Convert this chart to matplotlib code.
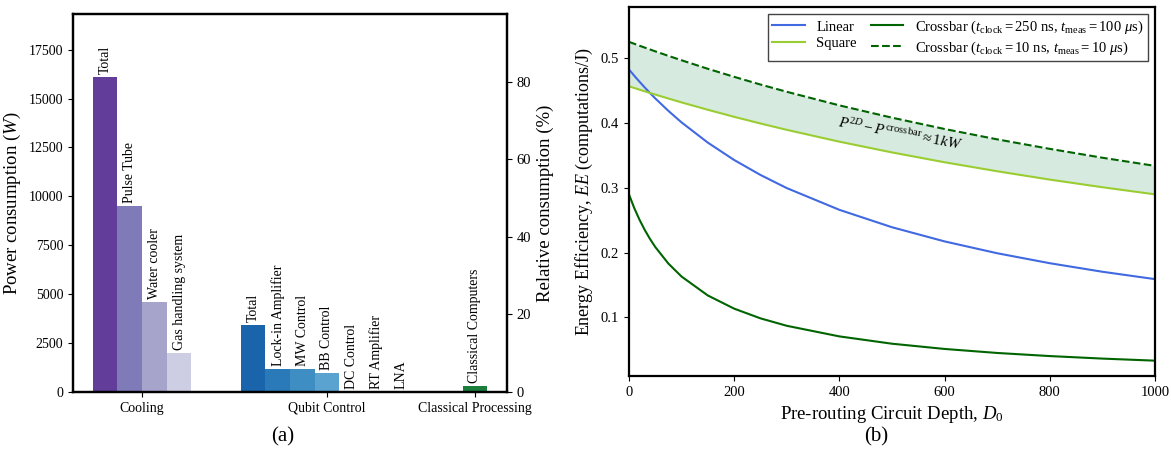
import numpy as np
import matplotlib
matplotlib.use("Agg")
import matplotlib.pyplot as plt
from matplotlib.ticker import MultipleLocator

plt.rcParams["font.family"] = ["Liberation Serif", "DejaVu Serif"]
plt.rcParams["mathtext.fontset"] = "custom"
plt.rcParams["mathtext.rm"] = "Liberation Serif"
plt.rcParams["mathtext.it"] = "Liberation Serif:italic"
plt.rcParams["axes.linewidth"] = 1.6

# (a) power consumption breakdown
group_names = ["Cooling", "Qubit Control", "Classical Processing"]
cooling_labels = ["Total", "Pulse Tube", "Water cooler", "Gas handling system"]
cooling_values = [16100, 9500, 4600, 2000]
qubit_labels = ["Total", "Lock-in Amplifier", "MW Control", "BB Control",
                "DC Control", "RT Amplifier", "LNA"]
qubit_values = [3420, 1200, 1200, 990, 20, 6, 4]
classical_labels = ["Classical Computers"]
classical_values = [300]

cooling_colors = ["#633d9a", "#7f7bb9", "#a7a4cc", "#cdcde4"]
qubit_colors = ["#1964aa", "#2a7aba", "#3e8ec4", "#5aa2cf",
                "#74b3d8", "#92c4df", "#b0d2e7"]
classical_colors = ["#1b7e3d"]

# (b) energy efficiency vs pre-routing depth
depth = [0, 10, 20, 30, 40, 50, 75, 100, 150, 200, 250, 300,
         400, 500, 600, 700, 800, 900, 1000]
ee_linear = [0.483, 0.4734, 0.4641, 0.4552, 0.4466, 0.4383, 0.4190, 0.4012,
             0.3699, 0.3431, 0.3200, 0.2997, 0.2661, 0.2392, 0.2173, 0.1990,
             0.1836, 0.1704, 0.1590]
ee_square = [0.457, 0.4544, 0.4518, 0.4492, 0.4467, 0.4442, 0.4381, 0.4321,
             0.4207, 0.4098, 0.3995, 0.3897, 0.3714, 0.3548, 0.3396, 0.3257,
             0.3128, 0.3010, 0.2900]
ee_crossbar_slow = [0.290, 0.2690, 0.2509, 0.2351, 0.2211, 0.2087, 0.1830,
                    0.1630, 0.1337, 0.1134, 0.0984, 0.0869, 0.0705, 0.0592,
                    0.0511, 0.0449, 0.0401, 0.0362, 0.0330]
ee_crossbar_fast = [0.5257, 0.5227, 0.5197, 0.5168, 0.5139, 0.5110, 0.5040,
                    0.4972, 0.4840, 0.4716, 0.4597, 0.4485, 0.4275, 0.4085,
                    0.3910, 0.3750, 0.3603, 0.3466, 0.3340]

fig = plt.figure(figsize=(11.71, 4.71), dpi=100)
ax = fig.add_axes([0.0623, 0.1677, 0.3707, 0.8026])

groups = [(cooling_labels, cooling_values, cooling_colors),
          (qubit_labels, qubit_values, qubit_colors),
          (classical_labels, classical_values, classical_colors)]
ymax = 1.2 * max(cooling_values + qubit_values + classical_values)
centers = []
pos = 0
for labels, values, colors in groups:
    x = pos + np.arange(len(values))
    ax.bar(x, values, width=1.0, color=colors)
    for xi, v, lab in zip(x, values, labels):
        ax.text(xi, v + 0.008 * ymax, lab, rotation=90, ha="center",
                va="bottom", fontsize=10)
    centers.append(x.mean())
    pos += len(values) + 2

ax.set_xticks(centers)
ax.set_xticklabels(group_names, fontsize=10.5)
ax.set_ylim(0, ymax)
ax.yaxis.set_major_locator(MultipleLocator(2500))
ax.tick_params(labelsize=10)
ax.set_ylabel("Power consumption ($W$)", fontsize=13.5)

total_power = cooling_values[0] + qubit_values[0] + classical_values[0]
ax2 = ax.twinx()
ax2.set_ylim(0, ymax / total_power * 100)
ax2.tick_params(labelsize=10.5)
ax2.set_ylabel("Relative consumption (%)", fontsize=13.5)

# (b)
bx = fig.add_axes([0.5371, 0.2017, 0.4492, 0.7841])
bx.fill_between(depth, ee_square, ee_crossbar_fast, color="#d6eadf", lw=0)
bx.plot(depth, ee_linear, color="royalblue", lw=1.5, label="Linear")
bx.plot(depth, ee_square, color="yellowgreen", lw=1.5, label="Square")
bx.plot(depth, ee_crossbar_slow, color="darkgreen", lw=1.5,
        label=r"Crossbar ($t_{\rm clock} = 250$ ns, $t_{\rm meas} = 100$ $\mu$s)")
bx.plot(depth, ee_crossbar_fast, color="darkgreen", lw=1.5, ls="--",
        label=r"Crossbar ($t_{\rm clock} = 10$ ns, $t_{\rm meas} = 10$ $\mu$s)")
bx.text(515, 0.384, r"$P^{2D} - P^{\rm crossbar} \approx 1kW$", rotation=-10.5,
        ha="center", va="center", fontsize=11)
bx.set_xlim(0, 1000)
bx.set_ylim(0.0093, 0.58)
bx.set_yticks([0.1, 0.2, 0.3, 0.4, 0.5])
bx.tick_params(labelsize=10.5)
bx.set_xlabel("Pre-routing Circuit Depth, $D_0$", fontsize=13.5)
bx.set_ylabel("Energy Efficiency, $EE$ (computations/J)", fontsize=13)
leg = bx.legend(loc="upper right", ncol=2, fontsize=10.5, fancybox=False,
                framealpha=1, edgecolor="#444444", columnspacing=1.0,
                labelspacing=0.25, borderpad=0.3, handlelength=2.2)
leg.get_frame().set_linewidth(1.0)

fig.text(0.2417, 0.072, "(a)", ha="center", va="center", fontsize=15)
fig.text(0.748, 0.072, "(b)", ha="center", va="center", fontsize=15)

fig.savefig("out.png", dpi=100)
